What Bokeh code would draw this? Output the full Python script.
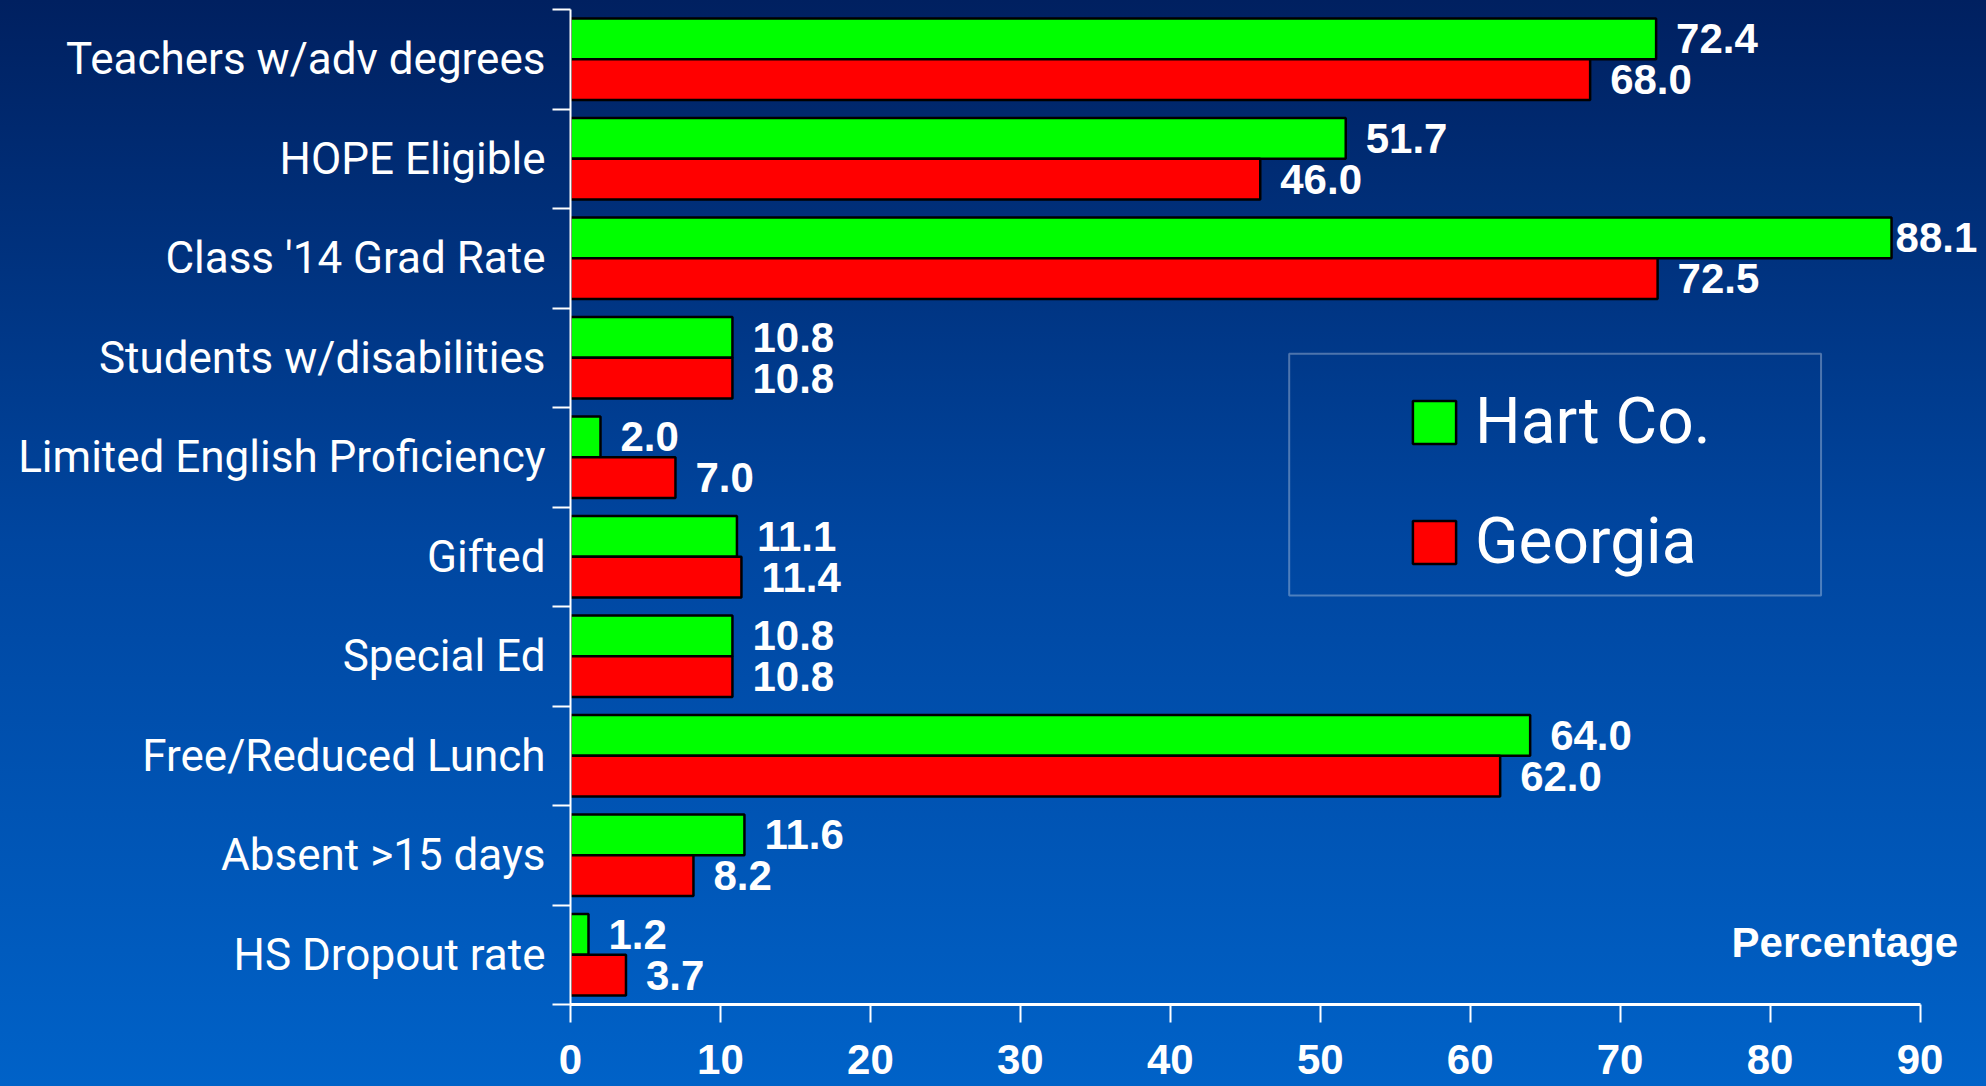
from bokeh.plotting import figure
from bokeh.models import (ColumnDataSource, FixedTicker, Legend, LegendItem, Label,
                          LabelSet, BoxAnnotation, Range1d, GlobalInlineStyleSheet)
from bokeh.core.properties import value
from bokeh.embed import file_html
from bokeh.resources import INLINE

# ---- data ----
categories = ["Teachers w/adv degrees", "HOPE Eligible", "Class '14 Grad Rate",
              "Students w/disabilities", "Limited English Proficiency", "Gifted",
              "Special Ed", "Free/Reduced Lunch", "Absent >15 days", "HS Dropout rate"]
hart = [72.4, 51.7, 88.1, 10.8, 2.0, 11.1, 10.8, 64.0, 11.6, 1.2]
georgia = [68.0, 46.0, 72.5, 10.8, 7.0, 11.4, 10.8, 62.0, 8.2, 3.7]
series_names = ["Hart Co.", "Georgia"]
x_ticks = [0, 10, 20, 30, 40, 50, 60, 70, 80, 90]
x_title = "Percentage"

# ---- style ----
NARROW = "Roboto"
BOLD = "Liberation Sans"
GREEN = "#00ff00"
RED = "#ff0000"
XMAX = 90
XVIEW = 94.3          # visible room right of the last tick (for labels)
BAR_H = 0.41

n = len(categories)
centers = [n - i - 0.5 for i in range(n)]

def offsets(vals):
    return [4 if v > XMAX - 5 else 20 for v in vals]

src_h = ColumnDataSource(dict(y=[c + BAR_H / 2 for c in centers], right=hart,
                              label=[f"{v:.1f}" for v in hart], off=offsets(hart)))
src_g = ColumnDataSource(dict(y=[c - BAR_H / 2 for c in centers], right=georgia,
                              label=[f"{v:.1f}" for v in georgia], off=offsets(georgia)))

p = figure(width=1984, height=1086, x_range=Range1d(0, XVIEW), y_range=Range1d(0, n),
           output_backend="svg", toolbar_location=None,
           min_border_left=570, min_border_right=0, min_border_top=9, min_border_bottom=82,
           background_fill_alpha=0, border_fill_alpha=0, outline_line_color=None)
grad = "linear-gradient(180deg, #002060 0%, #0046a0 50%, #0062c8 100%)"
p.styles = {"background": grad}
p.stylesheets = [GlobalInlineStyleSheet(css=f"html {{ min-height:100%; background: {grad}; }}")]

p.xgrid.visible = False
p.ygrid.visible = False

rh = p.hbar(y="y", left=0, right="right", height=BAR_H, source=src_h,
            fill_color=GREEN, line_color="black", line_width=2.5)
rg = p.hbar(y="y", left=0, right="right", height=BAR_H, source=src_g,
            fill_color=RED, line_color="black", line_width=2.5)

for src in (src_h, src_g):
    p.add_layout(LabelSet(x="right", y="y", text="label", x_offset="off", source=src,
                          text_font=value(BOLD), text_font_style="bold",
                          text_font_size="42px", text_color="white",
                          text_align="left", text_baseline="middle"))

# x axis
xa = p.xaxis[0]
xa.bounds = (0, XMAX)
xa.ticker = FixedTicker(ticks=x_ticks, minor_ticks=[])
xa.axis_line_color = "white"
xa.axis_line_width = 3
xa.major_tick_line_color = "white"
xa.major_tick_line_width = 2
xa.major_tick_out = 18
xa.major_tick_in = 0
xa.minor_tick_line_color = None
xa.major_label_standoff = 22
xa.major_label_text_font = BOLD
xa.major_label_text_font_style = "bold"
xa.major_label_text_font_size = "42px"
xa.major_label_text_color = "white"

# y axis: labels at centers, ticks at boundaries
ya = p.yaxis[0]
ya.ticker = FixedTicker(ticks=centers, minor_ticks=list(range(0, n + 1)))
ya.major_label_overrides = {c: name for c, name in zip(centers, categories)}
ya.axis_line_color = "white"
ya.axis_line_width = 2
ya.major_tick_line_color = None
ya.major_tick_out = 0
ya.major_tick_in = 0
ya.minor_tick_line_color = "white"
ya.minor_tick_line_width = 2
ya.minor_tick_out = 18
ya.minor_tick_in = 0
ya.major_label_standoff = 7
ya.major_label_text_font = NARROW
ya.major_label_text_font_size = "44px"
ya.major_label_text_color = "white"

# axis title
p.add_layout(Label(x=XMAX, y=0.62, x_offset=38, text=x_title, text_font=BOLD,
                   text_font_style="bold", text_font_size="42px", text_color="white",
                   text_align="right", text_baseline="middle"))

# legend
p.add_layout(BoxAnnotation(left=47.93, right=83.4, top=6.54, bottom=4.11,
                           fill_alpha=0, line_color="white", line_width=2))
legend = Legend(items=[LegendItem(label=series_names[0], renderers=[rh]),
                       LegendItem(label=series_names[1], renderers=[rg])],
                location=(837, 425), padding=0, margin=0, spacing=45,
                glyph_width=54, glyph_height=54, label_standoff=14,
                label_text_font=NARROW, label_text_font_size="64px",
                label_text_color="white", border_line_alpha=0, background_fill_alpha=0)
p.add_layout(legend)

open("out.html", "w").write(file_html(p, INLINE))
